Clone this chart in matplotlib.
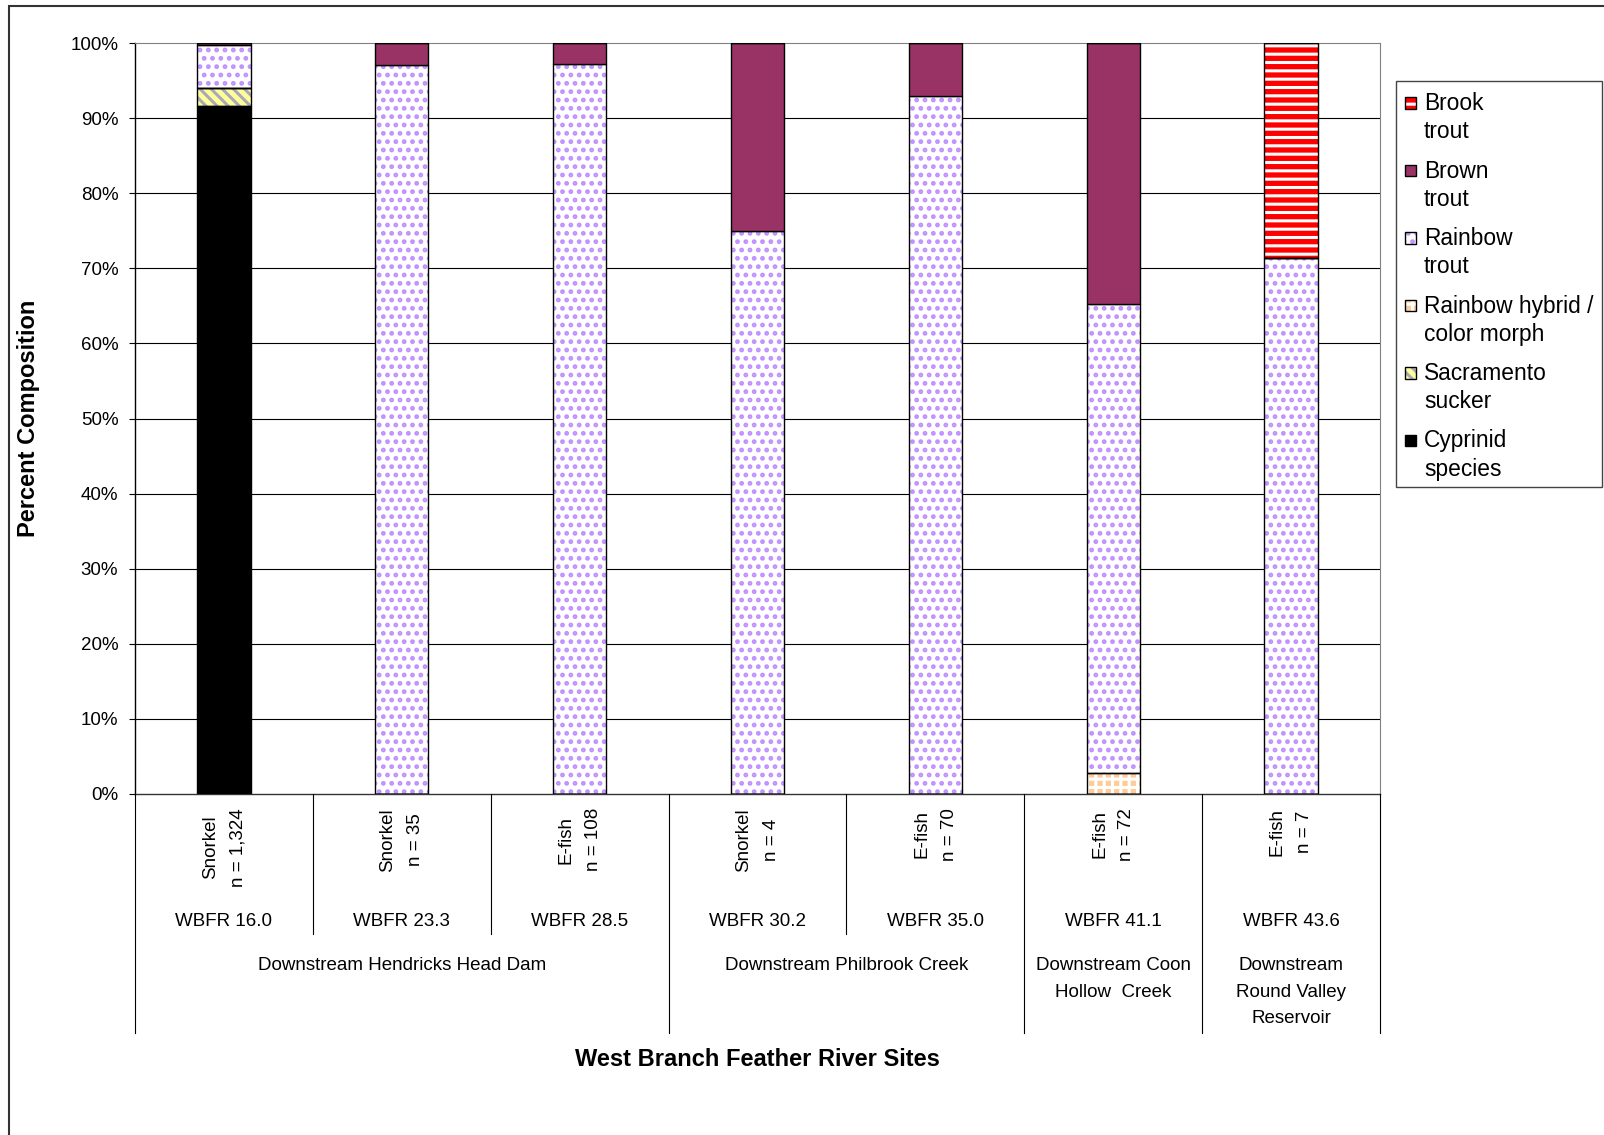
import matplotlib
matplotlib.use("Agg")
import matplotlib.pyplot as plt
from matplotlib.patches import Rectangle
from matplotlib.lines import Line2D
import matplotlib.transforms as mtransforms

plt.rcParams["font.family"] = ["Liberation Sans", "DejaVu Sans"]
plt.rcParams["hatch.linewidth"] = 2.2

# data (percent composition per site)
sites = ["WBFR 16.0", "WBFR 23.3", "WBFR 28.5", "WBFR 30.2", "WBFR 35.0", "WBFR 41.1", "WBFR 43.6"]
methods = ["Snorkel\nn = 1,324", "Snorkel\nn = 35", "E-fish\nn = 108", "Snorkel\nn = 4",
           "E-fish\nn = 70", "E-fish\nn = 72", "E-fish\nn = 7"]
groups = ["Downstream Hendricks Head Dam", "Downstream Philbrook Creek",
          "Downstream Coon\nHollow  Creek", "Downstream\nRound Valley\nReservoir"]
group_spans = [(0, 2), (3, 4), (5, 5), (6, 6)]

cyprinid = [91.6, 0, 0, 0, 0, 0, 0]
sucker = [2.4, 0, 0, 0, 0, 0, 0]
hybrid = [0, 0, 0, 0, 0, 2.8, 0]
rainbow = [5.7, 97.1, 97.2, 75.0, 92.9, 62.5, 71.4]
brown = [0.3, 2.9, 2.8, 25.0, 7.1, 34.7, 0]
brook = [0, 0, 0, 0, 0, 0, 28.6]

# order bottom -> top, with (face, hatch, hatch colour)
series = [
    ("Cyprinid\nspecies", cyprinid, "#000000", None, None),
    ("Sacramento\nsucker", sucker, "#FFFF99", "\\\\\\", "#A8A8B8"),
    ("Rainbow hybrid /\ncolor morph", hybrid, "#FFCC99", "++", "#FFFFFF"),
    ("Rainbow\ntrout", rainbow, "#FFFFFF", "..", "#C090FF"),
    ("Brown\ntrout", brown, "#993366", None, None),
    ("Brook\ntrout", brook, "#FF0000", "--", "#FFFFFF"),
]

W, H = 1604, 1135
fig = plt.figure(figsize=(W / 100, H / 100), dpi=100)
ax = fig.add_axes([135 / W, 1 - 794 / H, (1380 - 135) / W, (794 - 43) / H])

x = list(range(len(sites)))
bottom = [0.0] * len(sites)
for name, vals, face, hatch, hcol in series:
    if hatch:
        ax.bar(x, vals, 0.3, bottom=bottom, color=face, edgecolor=hcol, hatch=hatch,
               linewidth=0, zorder=2)
    ax.bar(x, vals, 0.3, bottom=bottom, facecolor=face if not hatch else "none",
           edgecolor="black", linewidth=1.0, zorder=3)
    bottom = [b + v for b, v in zip(bottom, vals)]

ax.set_xlim(-0.5, len(sites) - 0.5)
ax.set_ylim(0, 100)
ax.set_yticks(range(0, 101, 10))
ax.set_yticklabels([f"{v}%" for v in range(0, 101, 10)], fontsize=13.5)
ax.tick_params(axis="y", direction="out", length=4.5, width=0.8, pad=7.5)
ax.set_xticks([])
for y in range(10, 100, 10):
    ax.axhline(y, color="black", linewidth=0.8, zorder=1)
ax.spines["top"].set_color("#808080")
ax.spines["right"].set_color("#808080")
ax.spines["left"].set_linewidth(1.0)
ax.spines["bottom"].set_linewidth(1.0)
ax.spines["bottom"].set_color("#333333")

# multi-level category axis
trans = mtransforms.blended_transform_factory(ax.transData, fig.transFigure)
def fy(px):
    return 1 - px / H

short = [0.5, 1.5, 3.5]
long_ = [-0.5, 2.5, 4.5, 5.5, 6.5]
for xs in short:
    fig.add_artist(Line2D([xs, xs], [fy(794), fy(934)], transform=trans, color="black", linewidth=0.8))
for xs in long_:
    fig.add_artist(Line2D([xs, xs], [fy(794), fy(1033)], transform=trans, color="black", linewidth=0.8))

for i in x:
    fig.text(i, fy(808), methods[i], transform=trans, rotation=90, ha="center", va="top",
             multialignment="center", fontsize=13.5, linespacing=1.8)
    fig.text(i, fy(921), sites[i], transform=trans, ha="center", va="center", fontsize=13.5)
for g, (a, b) in zip(groups, group_spans):
    fig.text((a + b) / 2, fy(957), g, transform=trans, ha="center", va="top",
             multialignment="center", fontsize=13.5, linespacing=1.74)

fig.text((135 + 1380) / 2 / W, fy(1059), "West Branch Feather River Sites", ha="center", va="center",
         fontsize=17, fontweight="bold")
fig.text(29 / W, fy(418), "Percent Composition", rotation=90, ha="center", va="center",
         fontsize=17, fontweight="bold")

# legend drawn by hand (marker aligned with first line)
fig.add_artist(Rectangle((1396 / W, fy(487)), (1602 - 1396) / W, (487 - 81) / H,
                         transform=fig.transFigure, facecolor="white", edgecolor="#444444", linewidth=1.0))
for k, (name, vals, face, hatch, hcol) in enumerate(reversed(series)):
    yc = 103 + k * 67.5
    if hatch:
        fig.add_artist(Rectangle((1405 / W, fy(yc + 5.5)), 11 / W, 11 / H, transform=fig.transFigure,
                                 facecolor=face, edgecolor=hcol, hatch=hatch, linewidth=0))
    fig.add_artist(Rectangle((1405 / W, fy(yc + 5.5)), 11 / W, 11 / H, transform=fig.transFigure,
                             facecolor=face if not hatch else "none", edgecolor="black", linewidth=1.0))
    fig.text(1424 / W, fy(yc - 11), name, ha="left", va="top", fontsize=16.4, linespacing=1.3)

# outer chart border
fig.add_artist(Rectangle((9 / W, fy(1140)), 1.0, (1140 - 6) / H, transform=fig.transFigure,
                         facecolor="none", edgecolor="#333333", linewidth=1.5))

fig.savefig("out.png", dpi=100)
